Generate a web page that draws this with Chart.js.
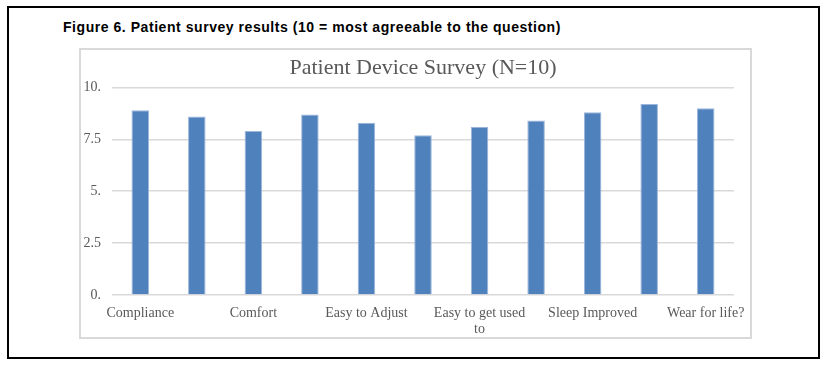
<!DOCTYPE html>
<html>
<head>
<meta charset="utf-8">
<script src="https://cdn.jsdelivr.net/npm/chart.js"></script>
<style>
  body { margin: 0; background: #fff; width: 828px; height: 366px; position: relative; overflow: hidden; }
  .frame { position: absolute; left: 7px; top: 6px; width: 813px; height: 353px; border: 2px solid #000; box-sizing: border-box; }
  .caption { position: absolute; left: 63px; top: 19px; font: bold 14px "Liberation Sans", Arial, sans-serif; letter-spacing: 0.55px; color: #000; white-space: nowrap; }
  .chartbox { position: absolute; left: 79px; top: 48px; width: 673px; height: 291px; border: 2px solid #D9D9D9; box-sizing: border-box; }
  #surveyChart { position: absolute; left: 81px; top: 50px; }
</style>
</head>
<body>
<div class="frame"></div>
<div class="caption">Figure 6. Patient survey results (10 = most agreeable to the question)</div>
<div class="chartbox"></div>
<canvas id="surveyChart" width="669" height="287"></canvas>

<script>
  // survey questions (unlabelled bars in the original are left blank)
  const categories = [
    "Compliance", "", "Comfort", "", "Easy to Adjust", "",
    ["Easy to get used", "to"], "", "Sleep Improved", "", "Wear for life?"
  ];
  const scores = [8.9, 8.6, 7.9, 8.7, 8.3, 7.7, 8.1, 8.4, 8.8, 9.2, 9.0];
  const yTickValues = [0, 2.5, 5, 7.5, 10];
  const yTickLabels = ["0.", "2.5", "5.", "7.5", "10."];

  const serif = "'Liberation Serif', 'Times New Roman', serif";

  new Chart(document.getElementById("surveyChart"), {
    type: "bar",
    data: {
      labels: categories,
      datasets: [{
        data: scores,
        backgroundColor: "#4F81BD",
        borderColor: "#9DB6DA",
        borderWidth: 1,
        barPercentage: 0.31,
        categoryPercentage: 1.0
      }]
    },
    options: {
      responsive: false,
      animation: false,
      layout: { padding: { left: 0, right: 16, top: 0, bottom: 0 } },
      plugins: {
        legend: { display: false },
        tooltip: { enabled: false },
        title: {
          display: true,
          fullSize: false,
          text: "Patient Device Survey (N=10)",
          color: "#595959",
          font: { family: serif, size: 22, weight: "normal" },
          padding: { top: 5, bottom: 6 }
        }
      },
      scales: {
        x: {
          grid: { display: false },
          border: { display: false },
          ticks: {
            color: "#595959",
            font: { family: serif, size: 14, lineHeight: 1.15 },
            maxRotation: 0,
            autoSkip: false,
            padding: 2
          },
          afterFit: (scale) => { scale.height = 42; }
        },
        y: {
          min: 0,
          max: 10,
          afterBuildTicks: (scale) => {
            scale.ticks = yTickValues.map((v) => ({ value: v }));
          },
          grid: { color: "#D9D9D9", lineWidth: 1.5, drawTicks: false },
          border: { display: false },
          ticks: {
            color: "#595959",
            font: { family: serif, size: 14 },
            padding: 11,
            callback: (v) => yTickLabels[yTickValues.indexOf(v)]
          },
          afterFit: (scale) => { scale.width = 31; }
        }
      }
    }
  });
</script>
</body>
</html>
